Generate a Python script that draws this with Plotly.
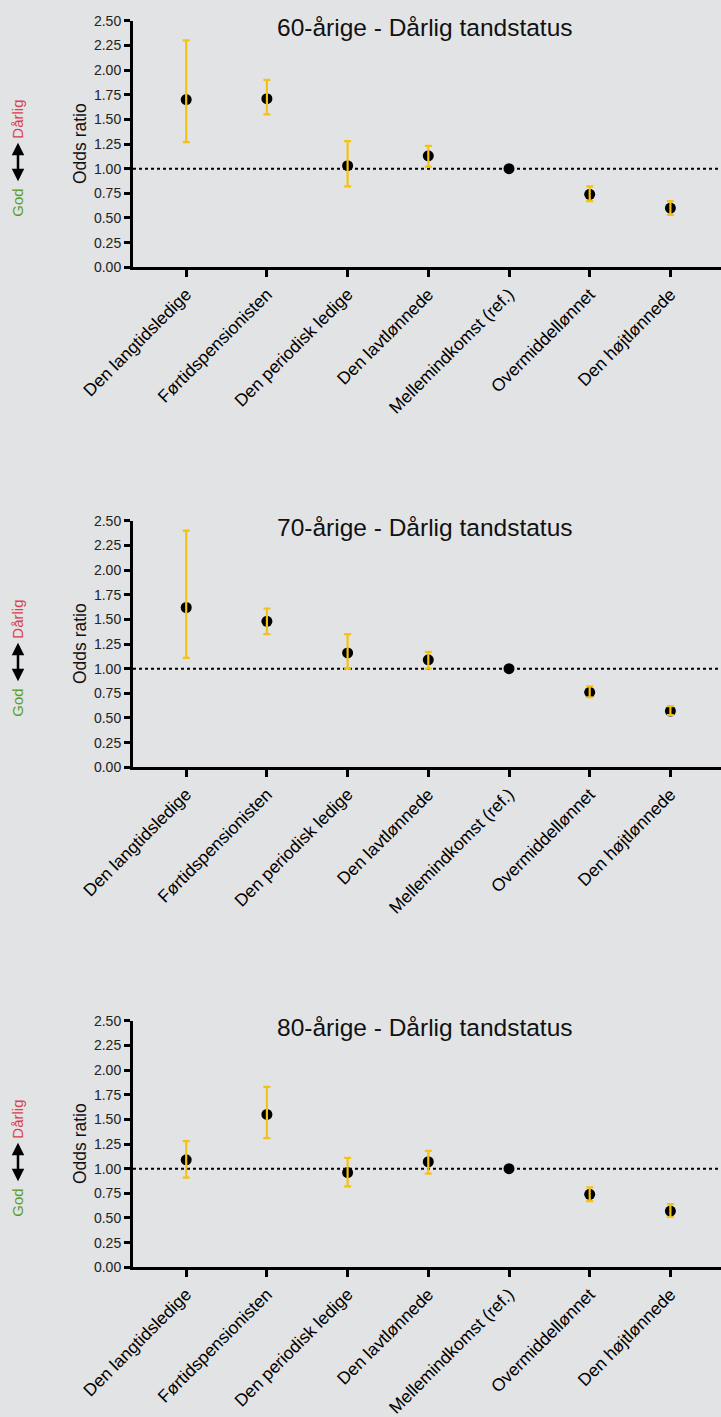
import plotly.graph_objects as go

categories = ["Den langtidsledige", "Førtidspensionisten", "Den periodisk ledige",
              "Den lavtlønnede", "Mellemindkomst (ref.)", "Overmiddellønnet", "Den højtlønnede"]

titles = ["60-årige - Dårlig tandstatus", "70-årige - Dårlig tandstatus", "80-årige - Dårlig tandstatus"]

or_60 = [1.70, 1.71, 1.03, 1.13, 1.00, 0.74, 0.60]
hi_60 = [2.30, 1.90, 1.28, 1.23, None, 0.82, 0.67]
lo_60 = [1.27, 1.55, 0.82, 1.02, None, 0.67, 0.53]

or_70 = [1.62, 1.48, 1.16, 1.09, 1.00, 0.76, 0.57]
hi_70 = [2.40, 1.61, 1.35, 1.17, None, 0.82, 0.62]
lo_70 = [1.11, 1.35, 1.00, 1.00, None, 0.71, 0.53]

or_80 = [1.09, 1.55, 0.96, 1.07, 1.00, 0.74, 0.57]
hi_80 = [1.28, 1.83, 1.11, 1.18, None, 0.81, 0.64]
lo_80 = [0.91, 1.31, 0.82, 0.95, None, 0.67, 0.51]

y_ticks = [0.0, 0.25, 0.5, 0.75, 1.0, 1.25, 1.5, 1.75, 2.0, 2.25, 2.5]

panels = [(or_60, hi_60, lo_60), (or_70, hi_70, lo_70), (or_80, hi_80, lo_80)]

W, H = 721, 1417
BG = "#e2e3e5"
GOLD = "#f5c211"
FONT = "Liberation Sans, Arial, Helvetica, sans-serif"

fig = go.Figure()

# pixel layout
x_left = 133
tick0_px = 186.2
spacing = 80.7
x_range = [-(tick0_px - x_left) / spacing, -(tick0_px - x_left) / spacing + (W - x_left) / spacing]
tops = [20.7, 520.7, 1020.7]
bottoms = [267.3, 767.3, 1267.3]

layout = {}
for i, (vals, hi, lo) in enumerate(panels):
    sfx = "" if i == 0 else str(i + 1)
    xa, ya = "x" + sfx, "y" + sfx
    fig.add_trace(go.Scatter(
        x=categories, y=vals, mode="markers", xaxis=xa, yaxis=ya,
        marker=dict(color="black", size=11), showlegend=False, cliponaxis=False))
    idx = [k for k in range(len(categories)) if hi[k] is not None]
    fig.add_trace(go.Scatter(
        x=[categories[k] for k in idx], y=[vals[k] for k in idx], mode="markers",
        xaxis=xa, yaxis=ya,
        marker=dict(color="rgba(0,0,0,0)", size=1), showlegend=False, cliponaxis=False,
        error_y=dict(type="data", symmetric=False,
                     array=[round(hi[k] - vals[k], 3) for k in idx],
                     arrayminus=[round(vals[k] - lo[k], 3) for k in idx],
                     color=GOLD, thickness=2.2, width=3.5)))
    d0 = 1 - bottoms[i] / H
    d1 = 1 - tops[i] / H
    layout["xaxis" + sfx] = dict(
        domain=[x_left / W, 1], anchor=ya, type="category", categoryorder="array",
        categoryarray=categories, range=x_range, showgrid=False, zeroline=False,
        showline=True, linecolor="black", linewidth=3, ticks="outside", ticklen=7,
        tickwidth=2.5, tickcolor="black", tickangle=-45, automargin=False,
        tickfont=dict(family=FONT, size=17.5, color="black"))
    layout["yaxis" + sfx] = dict(
        domain=[d0, d1], anchor=xa, range=[0, 2.5], tickvals=y_ticks, tickformat=".2f",
        showgrid=False, zeroline=False, showline=True, linecolor="black", linewidth=3,
        ticks="outside", ticklen=6, tickwidth=2.5, tickcolor="black", automargin=False,
        tickfont=dict(family=FONT, size=14, color="#222"))
    fig.add_shape(type="line", xref=xa + " domain", yref=ya, x0=0, x1=1, y0=1, y1=1,
                  line=dict(color="black", width=2, dash="dot"), layer="below")
    fig.add_annotation(text=titles[i], xref="paper", yref="paper", x=425 / W,
                       y=1 - (tops[i] + 7) / H, xanchor="center", yanchor="middle",
                       showarrow=False, font=dict(family=FONT, size=24.5, color="#111"))
    fig.add_annotation(text="Odds ratio", xref="paper", yref="paper", x=80 / W,
                       y=1 - (tops[i] + bottoms[i]) / 2 / H, textangle=-90,
                       xanchor="center", yanchor="middle", showarrow=False,
                       font=dict(family=FONT, size=17.5, color="#111"))
    # "God <-> Dårlig"
    fig.add_annotation(text="Dårlig", xref="paper", yref="paper", x=18 / W,
                       y=1 - (tops[i] + 99) / H, textangle=-90,
                       xanchor="center", yanchor="middle", showarrow=False,
                       font=dict(family=FONT, size=15, color="#d9404c"))
    fig.add_annotation(text="God", xref="paper", yref="paper", x=18 / W,
                       y=1 - (tops[i] + 182) / H, textangle=-90,
                       xanchor="center", yanchor="middle", showarrow=False,
                       font=dict(family=FONT, size=15, color="#5a9e2a"))
    fig.add_annotation(text="", xref="paper", yref="paper", x=18 / W,
                       y=1 - (tops[i] + 122) / H, axref="pixel", ayref="pixel",
                       ax=0, ay=40, showarrow=True, arrowhead=2, arrowside="end+start",
                       arrowsize=1.0, arrowwidth=2.5, arrowcolor="black")

fig.update_layout(width=W, height=H, margin=dict(l=0, r=0, t=0, b=0, autoexpand=False),
                  paper_bgcolor=BG, plot_bgcolor=BG, **layout)

fig.write_html("out.html", config={"displayModeBar": False},
               post_script="document.body.style.margin='0';document.body.style.padding='0';"
                           "document.body.style.background='%s';" % BG)
